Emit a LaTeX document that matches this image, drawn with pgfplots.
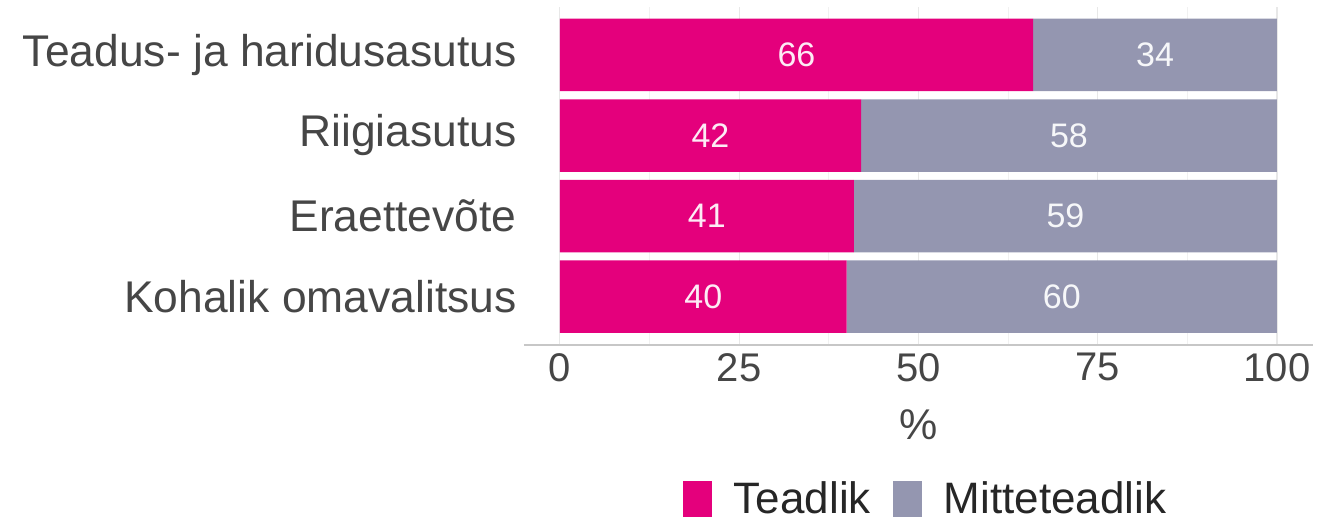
\documentclass[border=0pt]{standalone}
\usepackage{fontspec}
\setmainfont{Liberation Sans}
\usepackage{pgfplots}
\pgfplotsset{compat=1.18}
\definecolor{teadlik}{RGB}{228,0,124}
\definecolor{mitte}{RGB}{148,150,176}
\definecolor{labgray}{RGB}{70,70,70}
\definecolor{gridgray}{RGB}{232,232,232}
\pgfplotsset{
  commonframe/.style={
    at={(0pt,0pt)}, anchor=south west,
    scale only axis,
    width=394.4pt, height=169.2pt,
    xmin=-5, xmax=105,
    ymin=0.4, ymax=4.6,
  }
}
\begin{document}
\begin{tikzpicture}
\begin{axis}[
  commonframe,
  name=ax,
  xbar stacked,
  bar width=0.9,
  xtick={0,25,50,75,100},
  minor xtick={12.5,37.5,62.5,87.5},
  ytick={1,2,3,4},
  yticklabels={Kohalik omavalitsus, Eraettevõte, Riigiasutus, Teadus- ja haridusasutus},
  /pgf/number format/assume math mode=true,
  axis x line*=bottom,
  axis y line*=left,
  y axis line style={draw=none},
  x axis line style={draw=black!22, line width=1pt, -},
  major tick length=0pt, minor tick length=0pt,
  xmajorgrids, xminorgrids,
  major grid style={draw=gridgray, line width=0.6pt},
  minor grid style={draw=gridgray!60, line width=0.5pt},
  ticklabel style={font=\fontsize{20}{24}\selectfont, text=labgray},
  yticklabel style={font=\fontsize{22.2}{26}\selectfont, text=labgray, inner sep=0pt, anchor=east, xshift=-3.5pt},
  xticklabel style={inner sep=0pt, anchor=north, yshift=-4pt},
  xlabel={\%},
  xlabel style={at={(axis description cs:0.5,0)}, anchor=north, inner sep=0pt, yshift=-32pt, font=\fontsize{21.5}{25}\selectfont, text=labgray},
  legend columns=2,
  legend style={at={(0.508,-0.456)}, anchor=center, draw=none, fill=none,
    font=\fontsize{22}{26}\selectfont, text=black!85,
    /tikz/every odd column/.append style={column sep=11pt},
    /tikz/every even column/.append style={column sep=11pt},
    nodes={inner sep=0pt}},
  legend image code/.code={\fill[#1,draw=none] (0pt,-9pt) rectangle (14.5pt,9pt);},
]
\addplot[fill=teadlik, draw=none] coordinates {(40,1) (41,2) (42,3) (66,4)};
\addplot[fill=mitte, draw=none] coordinates {(60,1) (59,2) (58,3) (34,4)};
\legend{Teadlik, Mitteteadlik}
\end{axis}
\begin{axis}[
  commonframe,
  hide axis,
  clip=false,
]
\addplot[draw=none, mark=none, only marks,
  nodes near coords, point meta=explicit symbolic,
  every node near coord/.append style={anchor=center, text=white!92!teadlik, font=\fontsize{17}{20}\selectfont}]
  coordinates {(20,1) [40] (20.5,2) [41] (21,3) [42] (33,4) [66]};
\addplot[draw=none, mark=none, only marks,
  nodes near coords, point meta=explicit symbolic,
  every node near coord/.append style={anchor=center, text=white!92!mitte, font=\fontsize{17}{20}\selectfont}]
  coordinates {(70,1) [60] (70.5,2) [59] (71,3) [58] (83,4) [34]};
\end{axis}
\pgfresetboundingbox
\useasboundingbox ([xshift=-262pt,yshift=-88.5pt]ax.south west) rectangle ++(669.5pt,261pt);
\end{tikzpicture}
\end{document}
